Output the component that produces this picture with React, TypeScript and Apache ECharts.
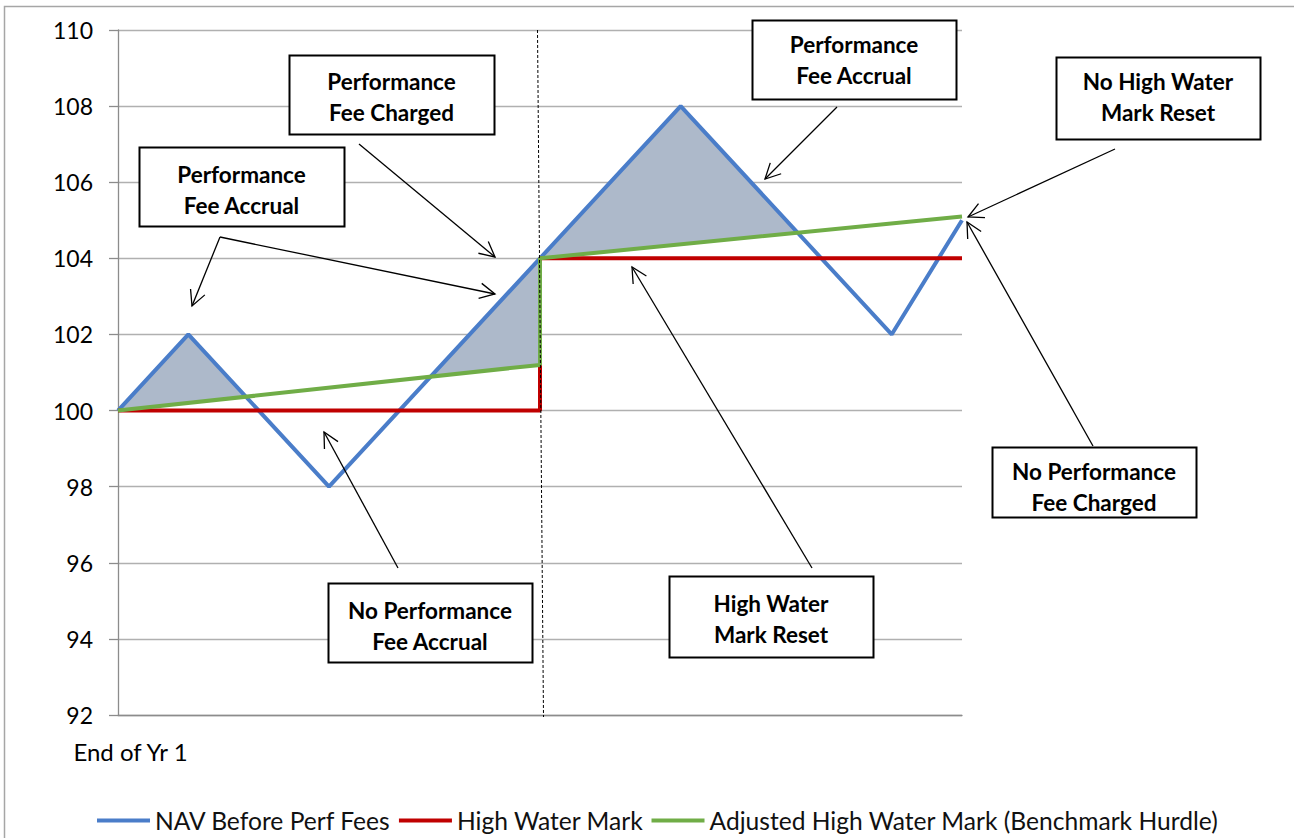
import React, { useEffect, useRef } from "react";
import * as echarts from "echarts";

// ---- data ----
const navX = [0, 2, 6, 12, 16, 22, 24];
const navY = [100, 102, 98, 104, 108, 102, 105];
const hwmX = [0, 12, 12, 24];
const hwmY = [100, 100, 104, 104];
const hurdleX = [0, 12, 12, 24];
const hurdleY = [100, 101.2, 104, 105.1];
const seriesNames = [
  "NAV Before Perf Fees",
  "High Water Mark",
  "Adjusted High Water Mark (Benchmark Hurdle)",
];
const xLabel = "End of Yr 1";
const yMin = 92;
const yMax = 110;
const yStep = 2;

// ---- annotations (layout) ----
const boxes = [
  { x: 289, y: 55, w: 205, h: 79, ty: 97, text: "Performance\nFee Charged" },
  { x: 139, y: 147, w: 205, h: 79, ty: 190, text: "Performance\nFee Accrual" },
  { x: 752, y: 20, w: 204, h: 79, ty: 60, text: "Performance\nFee Accrual" },
  { x: 1056, y: 57, w: 204, h: 82, ty: 97, text: "No High Water\nMark Reset" },
  { x: 992, y: 447, w: 204, h: 70, ty: 487, text: "No Performance\nFee Charged" },
  { x: 328, y: 583, w: 204, h: 79, ty: 626, text: "No Performance\nFee Accrual" },
  { x: 669, y: 576, w: 204, h: 81, ty: 619, text: "High Water\nMark Reset" },
];
const arrows = [
  [359, 144, 495, 257],
  [220, 237, 192, 306],
  [220, 237, 495, 294],
  [837, 107, 765, 179],
  [1115, 149, 968, 217],
  [1093, 446, 967, 222],
  [398, 568, 324, 432],
  [812, 568, 632, 267],
];

function pairs(xs: number[], ys: number[]) {
  return xs.map((x, i) => [x, ys[i]]);
}

function navAt(x: number) {
  for (let i = 0; i < navX.length - 1; i++) {
    if (x >= navX[i] && x <= navX[i + 1]) {
      const t = (x - navX[i]) / (navX[i + 1] - navX[i]);
      return navY[i] + t * (navY[i + 1] - navY[i]);
    }
  }
  return navY[navY.length - 1];
}

function buildFill() {
  const polys: number[][][] = [];
  for (let s = 0; s < hurdleX.length - 1; s++) {
    const x0 = hurdleX[s];
    const x1 = hurdleX[s + 1];
    if (x1 <= x0) continue;
    const g = (x: number) => hurdleY[s] + ((hurdleY[s + 1] - hurdleY[s]) * (x - x0)) / (x1 - x0);
    const xs = [x0, ...navX.filter((v) => v > x0 && v < x1), x1];
    let top: number[][] = [];
    let bot: number[][] = [];
    const flush = () => {
      if (top.length > 1) polys.push([...top, ...bot.slice().reverse()]);
      top = [];
      bot = [];
    };
    for (let i = 0; i < xs.length; i++) {
      const x = xs[i];
      const d = navAt(x) - g(x);
      if (i > 0) {
        const px = xs[i - 1];
        const pd = navAt(px) - g(px);
        if ((pd > 0 && d < 0) || (pd < 0 && d > 0)) {
          const cx = px + ((x - px) * pd) / (pd - d);
          const cy = g(cx);
          top.push([cx, cy]);
          bot.push([cx, cy]);
          if (pd > 0) flush();
        } else if (pd === 0 && d < 0) {
          flush();
        }
      }
      if (d >= 0) {
        top.push([x, navAt(x)]);
        bot.push([x, g(x)]);
      }
    }
    flush();
  }
  return polys;
}

function arrowGraphics() {
  const out: any[] = [];
  const L = 17;
  const th = (27 * Math.PI) / 180;
  arrows.forEach(([sx, sy, tx, ty]) => {
    const dx = tx - sx;
    const dy = ty - sy;
    const len = Math.hypot(dx, dy);
    const ux = dx / len;
    const uy = dy / len;
    const arm = (a: number) => {
      const rx = ux * Math.cos(a) - uy * Math.sin(a);
      const ry = ux * Math.sin(a) + uy * Math.cos(a);
      return [tx - L * rx, ty - L * ry];
    };
    const a1 = arm(th);
    const a2 = arm(-th);
    const st = { stroke: "#000", lineWidth: 1.3, fill: "none" };
    out.push({ type: "line", silent: true, z: 100, shape: { x1: sx, y1: sy, x2: tx, y2: ty }, style: st });
    out.push({
      type: "polyline",
      silent: true,
      z: 100,
      shape: { points: [a1, [tx, ty], a2] },
      style: st,
    });
  });
  return out;
}

function boxGraphics() {
  const out: any[] = [];
  boxes.forEach((b) => {
    out.push({
      type: "rect",
      silent: true,
      z: 101,
      shape: { x: b.x + 0.5, y: b.y + 0.5, width: b.w, height: b.h },
      style: { fill: "#fff", stroke: "#000", lineWidth: 2 },
    });
    out.push({
      type: "text",
      silent: true,
      z: 102,
      x: b.x + b.w / 2,
      y: b.ty,
      style: {
        text: b.text,
        fill: "#000",
        fontFamily: "Lato",
        fontWeight: "bold",
        fontSize: 22.5,
        lineHeight: 31,
        align: "center",
        verticalAlign: "middle",
      },
    });
  });
  return out;
}

export default function App() {
  const ref = useRef<HTMLDivElement>(null);
  useEffect(() => {
    if (!ref.current) return;
    const chart = echarts.init(ref.current, null, { renderer: "svg" });
    const polys = buildFill();
    const font = "Lato";
    chart.setOption({
      animation: false,
      backgroundColor: "#fff",
      textStyle: { fontFamily: font },
      grid: { left: 118, right: 332, top: 30, bottom: 123, containLabel: false },
      legend: {
        data: seriesNames,
        left: 92,
        top: 803,
        itemWidth: 53,
        itemHeight: 4,
        itemGap: 8,
        icon: "rect",
        textStyle: { fontFamily: font, fontSize: 24.6, color: "#111" },
      },
      xAxis: {
        type: "value",
        min: 0,
        max: 24,
        interval: 24,
        splitLine: { show: false },
        axisTick: { show: false },
        axisLine: { show: true, lineStyle: { color: "#8c8c8c", width: 1.3 } },
        axisLabel: {
          show: true,
          showMinLabel: true,
          showMaxLabel: false,
          margin: 24,
          padding: [0, 0, 0, 25],
          fontSize: 24,
          fontFamily: font,
          color: "#000",
          formatter: (v: number) => (v === 0 ? xLabel : ""),
        },
      },
      yAxis: {
        type: "value",
        min: yMin,
        max: yMax,
        interval: yStep,
        axisLine: { show: true, lineStyle: { color: "#8c8c8c", width: 1.3 } },
        axisTick: { show: true, length: 9, lineStyle: { color: "#8c8c8c", width: 1.3 } },
        splitLine: { show: true, lineStyle: { color: "#b0b0b0", width: 1.3 } },
        axisLabel: { margin: 25, fontSize: 23, fontFamily: font, color: "#000" },
      },
      graphic: [
        {
          type: "rect",
          silent: true,
          z: 0,
          shape: { x: 4.5, y: 6.5, width: 1400, height: 900 },
          style: { fill: "none", stroke: "#a6a6a6", lineWidth: 1.5 },
        },
        {
          type: "line",
          silent: true,
          z: 99,
          shape: { x1: 537.5, y1: 30, x2: 543.5, y2: 717 },
          style: { stroke: "#000", lineWidth: 1, lineDash: [3, 2] },
        },
        ...arrowGraphics(),
        ...boxGraphics(),
      ],
      series: [
        {
          type: "custom",
          name: "fill",
          silent: true,
          z: 1,
          data: polys.map((p) => p[0]),
          encode: { x: 0, y: 1 },
          renderItem: (params: any, api: any) => {
            const poly = polys[params.dataIndex];
            return {
              type: "polygon",
              shape: { points: poly.map((pt) => api.coord(pt)) },
              style: { fill: "#adb9ca", stroke: "none" },
            };
          },
        },
        {
          name: seriesNames[0],
          type: "line",
          data: pairs(navX, navY),
          symbol: "none",
          z: 3,
          lineStyle: { color: "#4a7dc9", width: 4 },
          itemStyle: { color: "#4a7dc9" },
        },
        {
          name: seriesNames[1],
          type: "line",
          data: pairs(hwmX, hwmY),
          symbol: "none",
          z: 4,
          lineStyle: { color: "#c00000", width: 4 },
          itemStyle: { color: "#c00000" },
        },
        {
          name: seriesNames[2],
          type: "line",
          data: pairs(hurdleX, hurdleY),
          symbol: "none",
          z: 5,
          lineStyle: { color: "#70ad47", width: 4 },
          itemStyle: { color: "#70ad47" },
        },
      ],
    });
    return () => chart.dispose();
  }, []);
  return (
    <div
      ref={ref}
      style={{ position: "absolute", left: 0, top: 0, width: 1294, height: 838 }}
    />
  );
}
